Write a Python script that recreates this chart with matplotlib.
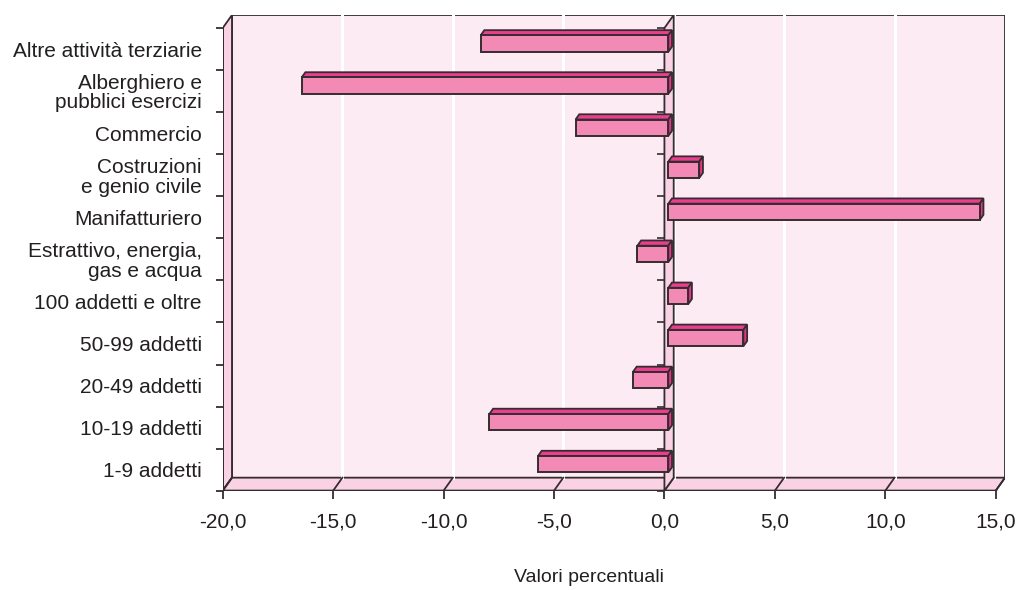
import numpy as np
import matplotlib
matplotlib.use("Agg")
import matplotlib.pyplot as plt
from matplotlib.patches import Polygon
from matplotlib.lines import TICKLEFT

plt.rcParams['font.family'] = ['Liberation Sans', 'DejaVu Sans']

# settori e classi dimensionali, dal basso verso l'alto
categories = ["1-9 addetti", "10-19 addetti", "20-49 addetti", "50-99 addetti",
              "100 addetti e oltre", "Estrattivo, energia,\ngas e acqua",
              "Manifatturiero", "Costruzioni\ne genio civile", "Commercio",
              "Alberghiero e\npubblici esercizi", "Altre attività terziarie"]
values = [-5.9, -8.1, -1.6, 3.4, 0.9, -1.4, 14.1, 1.4, -4.2, -16.6, -8.5]
x_ticks = [-20, -15, -10, -5, 0, 5, 10, 15]
x_label = "Valori percentuali"

# finta prospettiva 3D
DX, DY = 0.42, 0.31          # profondita' delle pareti
D0, D1 = 0.42, 0.82          # profondita' anteriore/posteriore delle barre
HALF = 0.195                 # meta' spessore barra

EDGE = "#352c30"
WALL = "#fcebf2"
SIDE = "#f9d3e4"
FRONT = "#f28ab5"
TOP = "#ec3e8e"
END = "#e5348a"
TEXT = "#231f20"

n = len(categories)
xmin, xmax = x_ticks[0], x_ticks[-1]

fig = plt.figure(figsize=(10.25, 5.9), dpi=100)
ax = fig.add_axes([222.7 / 1025, (590 - 490.7) / 590,
                   (1005.0 - 222.7) / 1025, (490.7 - 15.0) / 590])
ax.set_xlim(xmin, xmax + DX)
ax.set_ylim(0, n + DY)
for s in ax.spines.values():
    s.set_visible(False)
ax.set_facecolor("none")

def poly(pts, fc, z, lw=1.3):
    ax.add_patch(Polygon(pts, closed=True, facecolor=fc, edgecolor=EDGE,
                         linewidth=lw, zorder=z, joinstyle="miter"))

# pareti
poly([(xmin + DX, DY), (xmax + DX, DY), (xmax + DX, n + DY), (xmin + DX, n + DY)], WALL, 0)
poly([(xmin, 0), (xmin, n), (xmin + DX, n + DY), (xmin + DX, DY)], SIDE, 0.5)
poly([(xmin, 0), (xmax, 0), (xmax + DX, DY), (xmin + DX, DY)], SIDE, 0.5)

# griglia sulla parete di fondo e linee del pavimento
for t in x_ticks[1:-1]:
    ax.plot([t + DX, t + DX], [DY, n + DY], color="white", lw=2.2, zorder=1)
for t in x_ticks:
    ax.plot([t, t + DX], [0, DY], color=EDGE, lw=1.3, zorder=1.2)

# piano dello zero
poly([(0, 0), (0, n), (DX, n + DY), (DX, DY)], SIDE, 2)
ax.plot(np.zeros(n + 1), np.arange(n + 1), linestyle="none", marker=TICKLEFT,
        markersize=5, markeredgewidth=1.2, color=EDGE, zorder=2.1)

# barre
ypos = np.arange(n) + 0.5
ax.barh(ypos + D0 * DY, values, height=2 * HALF, left=D0 * DX,
        color=FRONT, edgecolor=EDGE, linewidth=1.4, zorder=4)
for y, v in zip(ypos, values):
    lo, hi = min(0, v), max(0, v)
    yt = y + HALF
    yb = y - HALF
    poly([(lo + D0 * DX, yt + D0 * DY), (hi + D0 * DX, yt + D0 * DY),
          (hi + D1 * DX, yt + D1 * DY), (lo + D1 * DX, yt + D1 * DY)], TOP, 3.9)
    poly([(hi + D0 * DX, yb + D0 * DY), (hi + D1 * DX, yb + D1 * DY),
          (hi + D1 * DX, yt + D1 * DY), (hi + D0 * DX, yt + D0 * DY)], END, 3.9)

# assi anteriori
ax.plot([xmin, xmax], [0, 0], color=EDGE, lw=1.7, zorder=5)
ax.plot([xmin, xmin], [0, n], color=EDGE, lw=1.4, zorder=5)

ax.set_xticks(x_ticks)
ax.set_xticklabels([f"{t:.1f}".replace(".", ",") for t in x_ticks])
ax.tick_params(axis="x", direction="out", length=6, width=1.3, color=EDGE,
               pad=10, labelsize=15, labelcolor=TEXT)

ax.set_yticks(ypos)
ax.set_yticklabels(categories, linespacing=1.02)
ax.set_yticks(np.arange(n + 1), minor=True)
ax.tick_params(axis="y", which="major", length=0, pad=15, labelsize=15,
               labelcolor=TEXT)
ax.tick_params(axis="y", which="minor", direction="out", length=5, width=1.3,
               color=EDGE)

fig.text(589 / 1025, 1 - 578 / 590, x_label, ha="center", va="center",
         fontsize=14, color=TEXT)

fig.savefig("out.png", dpi=100)
